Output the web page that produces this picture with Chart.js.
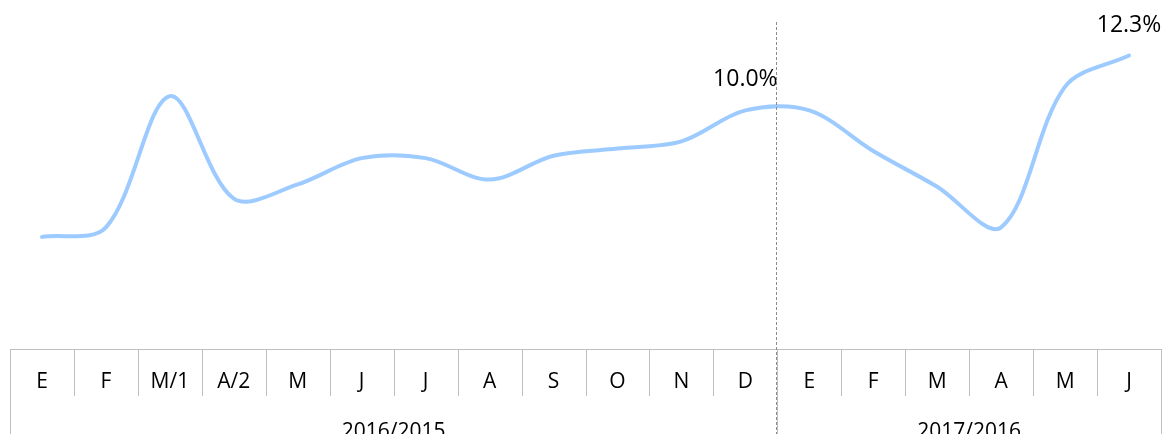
<!DOCTYPE html>
<html>
<head>
<meta charset="utf-8">
<script src="https://cdn.jsdelivr.net/npm/chart.js@4/dist/chart.umd.min.js"></script>
<style>
    html, body { margin: 0; padding: 0; background: #fff; }
    #wrap { width: 1165px; height: 434px; }
</style>
</head>
<body>
<div id="wrap"><canvas id="lineChart" width="1165" height="434"></canvas></div>
<script>
    const months = ["E", "F", "M/1", "A/2", "M", "J", "J", "A", "S", "O", "N", "D", "E", "F", "M", "A", "M", "J"];
    const values = [4.7, 5.1, 10.6, 6.3, 6.9, 8.0, 8.0, 7.1, 8.1, 8.4, 8.7, 10.0, 10.0, 8.3, 6.8, 5.1, 11.0, 12.3];
    const yearLabels = ["2016/2015", "2017/2016"];
    const yearSpans = [12, 6];
    const labeledPoints = [11, 17];

    const axisFont = "21px 'Open Sans'";
    const labelFont = "23px 'Open Sans'";
    const gridColor = "#bfbfbf";

    // draws the two level category box under the plot, the divider and the value labels
    const boxAxisPlugin = {
        id: "boxAxis",
        afterDraw(chart) {
            const ctx = chart.ctx;
            const x = chart.scales.x;
            const area = chart.chartArea;
            const top = area.bottom;
            const monthBottom = top + 47;
            const bottom = chart.height;
            const half = (x.getPixelForValue(1) - x.getPixelForValue(0)) / 2;
            const edge = i => x.getPixelForValue(i) - half;

            ctx.save();
            ctx.strokeStyle = gridColor;
            ctx.lineWidth = 1;
            ctx.beginPath();
            ctx.moveTo(area.left, top + 0.5);
            ctx.lineTo(area.right, top + 0.5);
            ctx.stroke();

            // group edges
            const groupEdges = [0];
            yearSpans.forEach(s => groupEdges.push(groupEdges[groupEdges.length - 1] + s));

            for (let i = 0; i <= months.length; i++) {
                const px = Math.round(edge(i)) + 0.5;
                const full = groupEdges.includes(i);
                ctx.beginPath();
                ctx.moveTo(px, top);
                ctx.lineTo(px, full ? bottom : monthBottom);
                ctx.stroke();
            }

            ctx.fillStyle = "#000";
            ctx.textAlign = "center";
            ctx.textBaseline = "alphabetic";
            ctx.font = axisFont;
            months.forEach((m, i) => {
                ctx.fillText(m, x.getPixelForValue(i), top + 39);
            });
            yearLabels.forEach((y, g) => {
                const cx = (edge(groupEdges[g]) + edge(groupEdges[g + 1])) / 2;
                ctx.fillText(y, cx, top + 89);
            });

            // dashed divider between the two years
            const dx = Math.round(edge(groupEdges[1])) - 0.5;
            ctx.strokeStyle = "#8c8c8c";
            ctx.setLineDash([3, 2]);
            ctx.beginPath();
            ctx.moveTo(dx, 22);
            ctx.lineTo(dx, bottom);
            ctx.stroke();
            ctx.setLineDash([]);

            // value labels
            const meta = chart.getDatasetMeta(0);
            ctx.font = labelFont;
            labeledPoints.forEach(i => {
                const pt = meta.data[i];
                ctx.fillText(values[i].toFixed(1) + "%", pt.x, pt.y - 24);
            });
            ctx.restore();
        }
    };

    new Chart(document.getElementById("lineChart").getContext("2d"), {
        type: "line",
        data: {
            labels: months,
            datasets: [{
                data: values,
                borderColor: "#9dcbff",
                borderWidth: 4,
                borderCapStyle: "round",
                tension: 0.33,
                pointRadius: 0,
                fill: false
            }]
        },
        options: {
            responsive: false,
            animation: false,
            layout: { padding: { left: 10, right: 4, top: 15, bottom: 85 } },
            plugins: {
                legend: { display: false },
                tooltip: { enabled: false }
            },
            scales: {
                x: {
                    display: false,
                    offset: true
                },
                y: {
                    display: false,
                    min: 0,
                    max: 14
                }
            }
        },
        plugins: [boxAxisPlugin]
    });
</script>
</body>
</html>
